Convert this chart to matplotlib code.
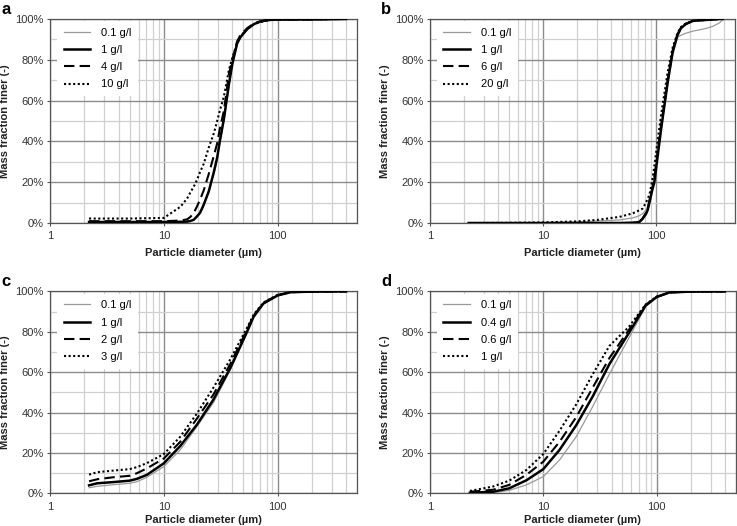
import numpy as np
import matplotlib
matplotlib.use('Agg')
import matplotlib.pyplot as plt
from matplotlib.ticker import FixedLocator, NullFormatter

plt.rcParams['font.family'] = ['Liberation Sans', 'DejaVu Sans']

# ---- panel a ----
a_labels = ['0.1 g/l', '1 g/l', '4 g/l', '10 g/l']
a_x = [2.2, 5, 10, 14, 16, 17.1, 18.3, 19.5, 20.8, 22.4, 24.8, 27.5, 29.4, 31, 33.7, 37.3, 40, 44, 47, 54, 62, 71, 85, 100, 200, 400]
a_01 = [0.4, 0.4, 0.4, 0.5, 0.6, 1.0, 1.5, 3.0, 5.0, 8.5, 15, 24, 31, 39, 50, 67, 78, 87, 91, 95, 97.5, 98.8, 99.3, 99.4, 99.3, 100]
a_1 = [0.5, 0.5, 0.5, 0.6, 0.7, 1.0, 1.6, 3.2, 5.0, 9.0, 15.5, 25, 32, 40, 51, 68, 78, 88, 91, 95, 97.5, 98.8, 99.5, 99.7, 99.8, 100]
a_4 = [0.9, 0.9, 0.9, 1.2, 1.8, 3.0, 5.0, 8.0, 11.5, 16, 24, 33, 39, 46, 55, 73, 80, 89, 92, 95.5, 97.8, 98.9, 99.5, 99.7, 99.8, 100]
a_10 = [2.2, 2.2, 2.5, 8.0, 12, 15, 17.8, 21, 25, 29, 37, 44, 50, 55, 62, 75, 81, 88, 91.5, 95, 97.5, 98.5, 99.5, 99.7, 99.8, 100]

# ---- panel b ----
b_labels = ['0.1 g/l', '1 g/l', '6 g/l', '20 g/l']
b_x = [2.2, 5, 10, 20, 30, 47.5, 62, 66.7, 71.3, 76, 81.7, 84.5, 87.5, 93.5, 96.8, 111, 127, 140.6, 155, 166, 184, 211, 241, 275, 316, 363, 389]
b_01 = [0, 0.1, 0.2, 0.6, 1.0, 1.5, 2.5, 3.0, 3.6, 4.5, 6.4, 8.0, 11, 18.6, 24, 45, 68, 82, 91, 92, 93, 94, 94.6, 95.3, 96.3, 98, 99.5]
b_1 = [0, 0, 0, 0, 0, 0, 0.1, 0.3, 0.5, 2.0, 4.5, 6.4, 10, 17, 20, 46, 69, 84, 92, 95.4, 97.5, 99, 99.3, 99.5, 99.7, 100, 100]
b_6 = [0, 0, 0, 0, 0, 0, 0.1, 0.3, 0.6, 2.2, 5.0, 7.0, 11, 18, 22, 48, 70, 84.5, 92.5, 95.6, 97.6, 99, 99.3, 99.5, 99.7, 100, 100]
b_20 = [0, 0.1, 0.3, 0.8, 1.5, 3.0, 4.7, 5.5, 6.3, 7.0, 10, 12, 13.7, 22, 28, 53, 74, 86, 93, 96, 97.8, 99, 99.3, 99.5, 99.7, 100, 100]

# ---- panel c ----
c_labels = ['0.1 g/l', '1 g/l', '2 g/l', '3 g/l']
c_x = [2.2, 2.6, 3.6, 5.0, 5.8, 7.1, 10, 13.9, 19.5, 27.3, 38.3, 53.8, 61.5, 75, 100, 130, 200, 400]
c_01 = [2.8, 3.5, 4.3, 5.0, 5.8, 8.0, 13.3, 21.5, 33, 45, 61, 79.4, 87, 94, 98, 99.6, 99.9, 100]
c_1 = [4.0, 5.0, 5.6, 6.3, 7.2, 9.2, 14.9, 23.4, 34, 46.5, 62, 80, 87.5, 94, 98, 99.6, 99.9, 100]
c_2 = [6.0, 7.0, 8.0, 8.7, 10, 12.4, 17.3, 25.5, 37, 49, 64, 81, 88, 94.3, 98.2, 99.6, 99.9, 100]
c_3 = [9.3, 10.5, 11.3, 12, 13, 15, 19.5, 28, 39.5, 52.4, 66.3, 82, 88.5, 94.5, 98.3, 99.7, 99.9, 100]

# ---- panel d ----
d_labels = ['0.1 g/l', '0.4 g/l', '0.6 g/l', '1 g/l']
d_x = [2.25, 3.6, 5.0, 7.1, 10, 13.9, 19.5, 27.3, 38.3, 57, 80, 100, 130, 200, 400]
d_01 = [0.0, 0.3, 1.5, 4.2, 8.3, 16.5, 28, 43, 59, 77, 92.5, 97, 99.4, 99.9, 100]
d_04 = [0.3, 0.8, 2.5, 6.5, 12, 21.5, 33.7, 48, 64, 79.5, 93, 97.2, 99.5, 99.9, 100]
d_06 = [0.8, 1.8, 4.2, 9.2, 15.7, 25.5, 37.7, 52.4, 67, 81, 93.3, 97.3, 99.5, 99.9, 100]
d_1 = [1.2, 3.4, 6.3, 11.6, 19.5, 31, 44, 59, 73, 82.5, 93.5, 97.4, 99.5, 99.9, 100]

# letter, x, series, labels, axes rect, xlabel pad
panels = [
    ('a', a_x, [a_01, a_1, a_4, a_10], a_labels, [0.068, 0.576, 0.4166, 0.388], 5),
    ('b', b_x, [b_01, b_1, b_6, b_20], b_labels, [0.5834, 0.576, 0.4138, 0.388], 5),
    ('c', c_x, [c_01, c_1, c_2, c_3], c_labels, [0.068, 0.062, 0.4166, 0.384], 2.5),
    ('d', d_x, [d_01, d_04, d_06, d_1], d_labels, [0.5834, 0.062, 0.415, 0.384], 2.5),
]

styles = [
    dict(color='#9a9a9a', lw=0.9, ls='-'),
    dict(color='black', lw=1.8, ls='-'),
    dict(color='black', lw=1.5, ls=(0, (5, 2.5))),
    dict(color='black', lw=1.5, ls=(0, (1, 1.2))),
]

fig = plt.figure(figsize=(7.37, 5.26), dpi=100)

for letter, x, ys, labels, pos, xpad in panels:
    ax = fig.add_axes(pos)
    for y, lab, st in zip(ys, labels, styles):
        ax.plot(x, y, label=lab, zorder=3, **st)
    ax.set_xscale('log')
    ax.set_xlim(1, 500)
    ax.set_ylim(0, 100)
    ax.xaxis.set_major_locator(FixedLocator([1, 10, 100]))
    ax.set_xticklabels(['1', '10', '100'])
    minor_x = [m * d for d in [1, 10, 100] for m in range(2, 10) if m * d <= 500]
    ax.xaxis.set_minor_locator(FixedLocator(minor_x))
    ax.xaxis.set_minor_formatter(NullFormatter())
    ax.set_yticks(np.arange(0, 101, 20))
    ax.set_yticklabels(['%d%%' % v for v in range(0, 101, 20)])
    ax.set_yticks(np.arange(10, 100, 20), minor=True)
    ax.grid(which='major', color='#8c8c8c', lw=1.0, zorder=0)
    ax.grid(which='minor', color='#d0d0d0', lw=0.9, zorder=0)
    ax.set_axisbelow(True)
    ax.tick_params(which='major', length=2.5, width=0.8, color='#555555',
                   labelsize=8, labelcolor='#333333', pad=2)
    ax.tick_params(axis='x', which='major', pad=3.5)
    ax.tick_params(which='minor', length=0)
    for s in ax.spines.values():
        s.set_color('#555555')
        s.set_linewidth(0.9)
    ax.set_xlabel('Particle diameter (\u00b5m)', fontsize=8, fontweight='bold',
                  labelpad=xpad, color='#222222')
    ax.set_ylabel('Mass fraction finer (-)', fontsize=8, fontweight='bold',
                  labelpad=4, color='#222222')
    leg = ax.legend(loc='upper left', bbox_to_anchor=(0.015, 1.0), fontsize=8,
                    frameon=True, fancybox=False,
                    edgecolor='none', facecolor='white', framealpha=1,
                    borderaxespad=0.2, borderpad=0.6, handlelength=2.4,
                    handletextpad=1.0, labelspacing=0.65)
    leg.set_zorder(4)
    bb = ax.get_position()
    fig.text(bb.x0 - 0.066, bb.y1 + 0.004, letter, fontsize=12, fontweight='bold',
             ha='left', va='bottom')

fig.savefig('out.png', dpi=100)
